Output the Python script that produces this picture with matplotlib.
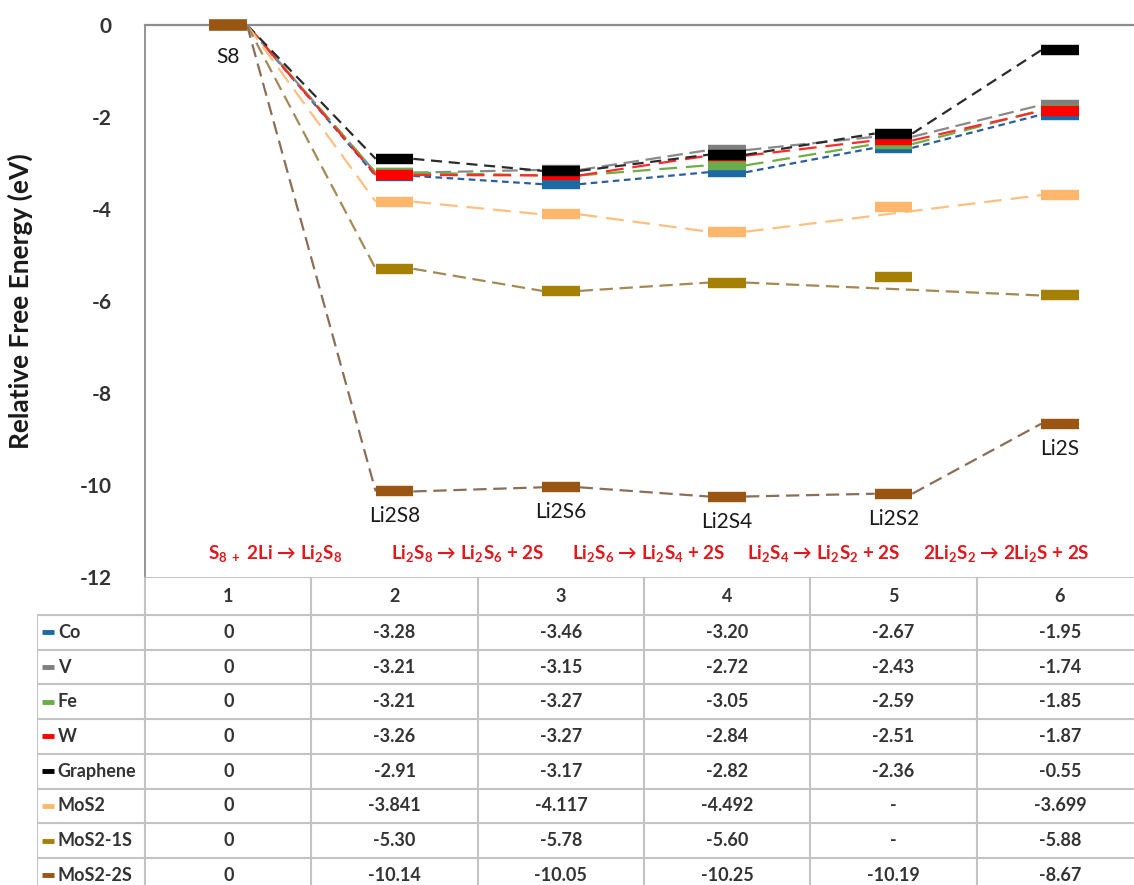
import matplotlib
matplotlib.use('Agg')
import matplotlib.pyplot as plt

plt.rcParams['font.family'] = ['Lato', 'DejaVu Sans']
plt.rcParams['mathtext.fontset'] = 'custom'
plt.rcParams['mathtext.rm'] = 'Lato:bold'
plt.rcParams['mathtext.it'] = 'Lato:bold'
plt.rcParams['mathtext.bf'] = 'Lato:bold'

# relative free energies (eV) along the reduction path, None = not reported
steps = [1, 2, 3, 4, 5, 6]
series_names = ['Co', 'V', 'Fe', 'W', 'Graphene', 'MoS2', 'MoS2-1S', 'MoS2-2S']
co = [0, -3.28, -3.46, -3.20, -2.67, -1.95]
v = [0, -3.21, -3.15, -2.72, -2.43, -1.74]
fe = [0, -3.21, -3.27, -3.05, -2.59, -1.85]
w = [0, -3.26, -3.27, -2.84, -2.51, -1.87]
graphene = [0, -2.91, -3.17, -2.82, -2.36, -0.55]
mos2 = [0, -3.841, -4.117, -4.492, None, -3.699]
mos2_1s = [0, -5.30, -5.78, -5.60, None, -5.88]
mos2_2s = [0, -10.14, -10.05, -10.25, -10.19, -8.67]
table_decimals = [2, 2, 2, 2, 2, 3, 2, 2]

# levels drawn at step 5 that have no entry in the table
unlisted_step = 5
unlisted_levels = {'MoS2': -3.96, 'MoS2-1S': -5.47}

species = ['S8', 'Li2S8', 'Li2S6', 'Li2S4', 'Li2S2', 'Li2S']
reactions = [r'S$_{8\ +}$ 2Li → Li$_2$S$_8$',
             r'Li$_2$S$_8$ → Li$_2$S$_6$ + 2S',
             r'Li$_2$S$_6$ → Li$_2$S$_4$ + 2S',
             r'Li$_2$S$_4$ → Li$_2$S$_2$ + 2S',
             r'2Li$_2$S$_2$ → 2Li$_2$S + 2S']

all_series = [co, v, fe, w, graphene, mos2, mos2_1s, mos2_2s]
bar_colors = ['#1b6aa5', '#7f7f7f', '#6aab4c', '#ff0000', '#000000',
              '#ffb76e', '#a67f05', '#9a5513']
line_colors = ['#2a5f9e', '#8a8a8a', '#70ad47', '#ff2a2a', '#2b2b2b',
               '#ffbf80', '#a38a55', '#8a6e58']
line_styles = [(0, (3, 2)), (0, (7, 3)), (0, (8, 4)), (0, (8, 4)),
               (0, (5, 3)), (0, (8, 4)), (0, (6, 3)), (0, (6, 3))]

W, H = 1134, 885
fig = plt.figure(figsize=(W / 100, H / 100), dpi=100)
ax = fig.add_axes([145 / W, 308 / H, 998 / W, 552 / H])
ax.set_xlim(0.5, 6.5)
ax.set_ylim(-12, 0)

half = 0.113  # half width of an energy level bar

# dashed connectors from the right end of one level to the left end of the next
for vals, lc, ls in zip(all_series, line_colors, line_styles):
    pts = [(s, e) for s, e in zip(steps, vals) if e is not None]
    for (s0, e0), (s1, e1) in zip(pts[:-1], pts[1:]):
        ax.plot([s0 + half, s1 - half], [e0, e1], color=lc, ls=ls, lw=1.6,
                zorder=2, clip_on=False)

for name, vals, bc in zip(series_names, all_series, bar_colors):
    xs = [s for s, e in zip(steps, vals) if e is not None]
    ys = [e for e in vals if e is not None]
    if name in unlisted_levels:
        xs.append(unlisted_step)
        ys.append(unlisted_levels[name])
    ax.hlines(ys, [x - half for x in xs], [x + half for x in xs], colors=bc,
              lw=7.5, capstyle='butt', zorder=3, clip_on=False)

# species names under the MoS2-2S levels
for i, (s, name, e) in enumerate(zip(steps, species, mos2_2s)):
    drop = -23 if i == 0 else -18
    ax.annotate(name, (s, e), xytext=(0, drop), textcoords='offset points',
                ha='center', va='center', fontsize=15, color='#1a1a1a')

reaction_x = [1.28, 2.44, 3.53, 4.58, 5.68]
for x, txt in zip(reaction_x, reactions):
    ax.text(x, -11.5, txt, ha='center', va='center', fontsize=13.5,
            fontweight='bold', color='#e3161c')

ax.set_xticks([])
ax.set_yticks(range(0, -13, -2))
ax.set_yticklabels([str(t) for t in range(0, -13, -2)], fontsize=15,
                   fontweight='bold', color='#333333')
ax.tick_params(axis='y', length=0, pad=24)
ax.set_ylabel('Relative Free Energy (eV)', fontsize=19, fontweight='bold',
              color='#1a1a1a')
ax.yaxis.set_label_coords(-112 / 998, 0.5)
for side in ['right', 'bottom']:
    ax.spines[side].set_visible(False)
ax.spines['left'].set_color('#8c8c8c')
ax.spines['top'].set_color('#8c8c8c')
ax.spines['left'].set_linewidth(1.3)
ax.spines['top'].set_linewidth(1.6)

# data table underneath, sharing the step spacing of the chart
tax = fig.add_axes([37 / W, -8 / H, 1106 / W, 316 / H])
tax.set_xlim(-0.15, 6.5)
tax.set_ylim(316, 0)
tax.axis('off')

head_h = 38
row_h = 34.7
grid = '#c3c3c3'
row_edges = [head_h + k * row_h for k in range(len(series_names) + 1)]
tax.hlines(0, 0.5, 6.5, color=grid, lw=1.5)
tax.hlines(row_edges, -0.15, 6.5, color=grid, lw=1.5)
tax.vlines([s + 0.5 for s in [0] + steps[:-1]], 0, 316, color=grid, lw=1.5)
tax.vlines(-0.15, head_h, 316, color=grid, lw=1.5)

for s in steps:
    tax.text(s, head_h / 2, str(s), ha='center', va='center', fontsize=13,
             fontweight='bold', color='#333333')

for k, (name, vals, bc, nd) in enumerate(zip(series_names, all_series,
                                            bar_colors, table_decimals)):
    yc = head_h + (k + 0.5) * row_h
    tax.hlines(yc, -0.12, -0.045, color=bc, lw=3.5)
    tax.text(-0.025, yc, name, ha='left', va='center', fontsize=13,
             fontweight='bold', color='#333333')
    for s, e in zip(steps, vals):
        if e is None:
            txt = '-'
        elif e == 0:
            txt = '0'
        else:
            txt = f'{e:.{nd}f}'
        tax.text(s, yc, txt, ha='center', va='center', fontsize=13,
                 fontweight='bold', color='#333333')

fig.savefig('out.png', dpi=100)
